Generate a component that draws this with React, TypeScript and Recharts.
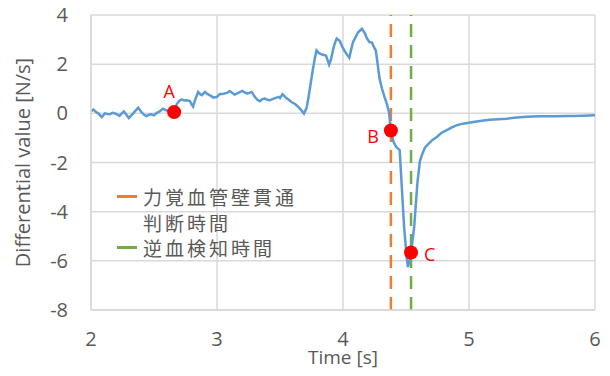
import React from 'react';
import {
  LineChart,
  Line,
  XAxis,
  YAxis,
  CartesianGrid,
  ReferenceLine,
  ReferenceDot,
  Legend,
} from 'recharts';

// ============================================================================
// DATA
// ============================================================================

const TIME = [
  2.0, 2.02, 2.04, 2.06, 2.085, 2.11, 2.13, 2.15, 2.17, 2.19, 2.21, 2.225, 2.245, 2.26, 2.28, 2.3,
  2.32, 2.335, 2.355, 2.375, 2.39, 2.4, 2.42, 2.44, 2.46, 2.48, 2.5, 2.52, 2.545, 2.57, 2.585, 2.6,
  2.62, 2.64, 2.66, 2.68, 2.7, 2.72, 2.74, 2.76, 2.785, 2.8, 2.81, 2.83, 2.85, 2.865, 2.88, 2.905,
  2.92, 2.94, 2.955, 2.97, 3.0, 3.02, 3.05, 3.08, 3.1, 3.12, 3.14, 3.17, 3.2, 3.22, 3.24, 3.275,
  3.29, 3.3, 3.32, 3.34, 3.36, 3.38, 3.4, 3.42, 3.44, 3.46, 3.49, 3.5, 3.52, 3.535, 3.55, 3.57,
  3.59, 3.62, 3.645, 3.67, 3.69, 3.71, 3.725, 3.74, 3.76, 3.775, 3.79, 3.81, 3.84, 3.865, 3.89,
  3.905, 3.92, 3.935, 3.95, 3.975, 3.99, 4.01, 4.03, 4.05, 4.065, 4.08, 4.1, 4.12, 4.15, 4.175,
  4.19, 4.21, 4.23, 4.245, 4.26, 4.275, 4.29, 4.31, 4.33, 4.35, 4.365, 4.38, 4.4, 4.42, 4.45,
  4.465, 4.485, 4.505, 4.515, 4.53, 4.54, 4.565, 4.59, 4.61, 4.625, 4.65, 4.68, 4.71, 4.745,
  4.78, 4.82, 4.86, 4.9, 4.95, 5.0, 5.035, 5.1, 5.165, 5.23, 5.3, 5.36, 5.43, 5.5, 5.56, 5.63,
  5.7, 5.77, 5.83, 5.9, 5.95, 6.0,
];

const DIFF_VALUE = [
  0.09, 0.15, 0.05, -0.01, -0.15, 0.0, -0.03, -0.04, 0.02, 0.0, -0.05, -0.1, 0.0, 0.08, -0.05, -0.19,
  -0.08, 0.0, 0.12, 0.23, 0.12, 0.05, -0.05, -0.11, -0.06, -0.04, -0.08, 0.01, 0.08, 0.19, 0.15, 0.12,
  0.05, 0.02, 0.05, 0.37, 0.5, 0.57, 0.52, 0.53, 0.5, 0.35, 0.28, 0.6, 0.87, 0.78, 0.74, 0.87,
  0.8, 0.74, 0.7, 0.64, 0.67, 0.78, 0.8, 0.83, 0.91, 0.84, 0.76, 0.83, 0.91, 0.85, 0.8, 0.87,
  0.75, 0.67, 0.55, 0.49, 0.58, 0.6, 0.55, 0.53, 0.58, 0.62, 0.67, 0.62, 0.78, 0.7, 0.62, 0.55,
  0.46, 0.38, 0.26, 0.12, -0.01, 0.2, 0.6, 1.1, 1.75, 2.2, 2.56, 2.45, 2.38, 2.35, 1.98,
  2.2, 2.56, 2.85, 3.04, 2.94, 2.75, 2.56, 2.4, 2.26, 2.6, 2.9, 3.1, 3.3, 3.44, 3.24,
  3.05, 2.9, 2.88, 2.7, 2.56, 2.0, 1.41, 1.0, 0.66, 0.35, 0.05, -0.7, -1.15, -1.35, -1.5,
  -2.86, -4.62, -5.84, -6.25, -5.95, -5.66, -4.62, -2.86, -1.95, -1.71, -1.4, -1.23, -1.08, -0.96,
  -0.8, -0.69, -0.58, -0.49, -0.42, -0.38, -0.35, -0.3, -0.26, -0.24, -0.22, -0.18, -0.15, -0.13, -0.12, -0.12,
  -0.12, -0.11, -0.11, -0.1, -0.09, -0.08,
];

const X_TICKS = [2, 3, 4, 5, 6];
const Y_TICKS = [-8, -6, -4, -2, 0, 2, 4];

const MARKER_NAMES = ['A', 'B', 'C'];
const MARKER_TIME = [2.66, 4.38, 4.54];
const MARKER_VALUE = [0.05, -0.7, -5.66];

const FORCE_TIME = 4.38; // 力覚血管壁貫通判断時間
const BLOOD_TIME = 4.54; // 逆血検知時間

const LEGEND_LABELS = [['力覚血管壁貫通', '判断時間'], ['逆血検知時間']];

// ============================================================================
// CONSTANTS
// ============================================================================

const COLORS = {
  line: '#5b9bd5',
  force: '#ed7d31',
  blood: '#70ad47',
  grid: '#d9d9d9',
  text: '#595959',
  marker: '#ff0000',
};

const FONT = '"Open Sans", "Noto Sans", sans-serif';
const LEGEND_COLORS = [COLORS.force, COLORS.blood];

const chartData = TIME.map((t, i) => ({ t, v: DIFF_VALUE[i] }));

// label offsets for A / B / C
const MARKER_LABEL = [
  { position: 'top', offset: 7, dx: -5, dy: 0 },
  { position: 'left', offset: 5, dx: 0, dy: 6 },
  { position: 'right', offset: 6, dx: 0, dy: 2 },
];

// ============================================================================
// COMPONENT
// ============================================================================

const LegendBox = () => (
  <div
    style={{
      fontFamily: '"Noto Sans CJK JP", sans-serif',
      fontSize: 19,
      letterSpacing: 3,
      lineHeight: '25.5px',
      color: COLORS.text,
    }}
  >
    {LEGEND_LABELS.map((lines, i) => (
      <div key={i} style={{ display: 'flex', alignItems: 'flex-start' }}>
        <div
          style={{
            width: 20,
            height: 3,
            marginTop: 11,
            marginRight: 6,
            flexShrink: 0,
            backgroundColor: LEGEND_COLORS[i],
          }}
        />
        <div>
          {lines.map((l) => (
            <div key={l}>{l}</div>
          ))}
        </div>
      </div>
    ))}
  </div>
);

export default function App() {
  return (
    <div style={{ width: 610, height: 376, margin: -8, position: 'relative', fontFamily: FONT }}>
      <LineChart
        width={610}
        height={376}
        data={chartData}
        margin={{ top: 15, right: 15, bottom: 0, left: 0 }}
      >
        <CartesianGrid stroke={COLORS.grid} strokeWidth={1.5} />
        <XAxis
          dataKey="t"
          type="number"
          domain={[2, 6]}
          ticks={X_TICKS}
          height={66}
          tickLine={false}
          tickMargin={16}
          axisLine={{ stroke: COLORS.grid, strokeWidth: 1.5 }}
          tick={{ fill: COLORS.text, fontSize: 20, fontFamily: FONT }}
          label={{
            value: 'Time [s]',
            position: 'insideBottom',
            offset: 12,
            style: { fill: COLORS.text, fontSize: 19, fontFamily: FONT },
          }}
        />
        <YAxis
          type="number"
          domain={[-8, 4]}
          ticks={Y_TICKS}
          width={91}
          tickLine={false}
          tickMargin={17}
          axisLine={{ stroke: COLORS.grid, strokeWidth: 1.5 }}
          tick={{ fill: COLORS.text, fontSize: 20, fontFamily: FONT }}
          label={{
            value: 'Differential value [N/s]',
            angle: -90,
            position: 'insideLeft',
            offset: 23,
            style: { fill: COLORS.text, fontSize: 20, fontFamily: FONT, textAnchor: 'middle' },
          }}
        />
        <Legend
          layout="vertical"
          align="center"
          verticalAlign="middle"
          content={() => <LegendBox />}
          wrapperStyle={{ position: 'absolute', left: 117, top: 184, width: 240 }}
        />
        <ReferenceLine
          x={FORCE_TIME}
          stroke={COLORS.force}
          strokeWidth={2.5}
          strokeDasharray="13 8"
        />
        <ReferenceLine
          x={BLOOD_TIME}
          stroke={COLORS.blood}
          strokeWidth={2.5}
          strokeDasharray="13 8"
        />
        <Line
          dataKey="v"
          stroke={COLORS.line}
          strokeWidth={2.5}
          dot={false}
          activeDot={false}
          isAnimationActive={false}
        />
        {MARKER_NAMES.map((name, i) => (
          <ReferenceDot
            key={name}
            x={MARKER_TIME[i]}
            y={MARKER_VALUE[i]}
            r={7}
            fill={COLORS.marker}
            stroke="none"
            label={{
              value: name,
              position: MARKER_LABEL[i].position as any,
              offset: MARKER_LABEL[i].offset,
              dx: MARKER_LABEL[i].dx,
              dy: MARKER_LABEL[i].dy,
              fill: COLORS.marker,
              fontSize: 18,
              fontFamily: FONT,
            }}
          />
        ))}
      </LineChart>
    </div>
  );
}
